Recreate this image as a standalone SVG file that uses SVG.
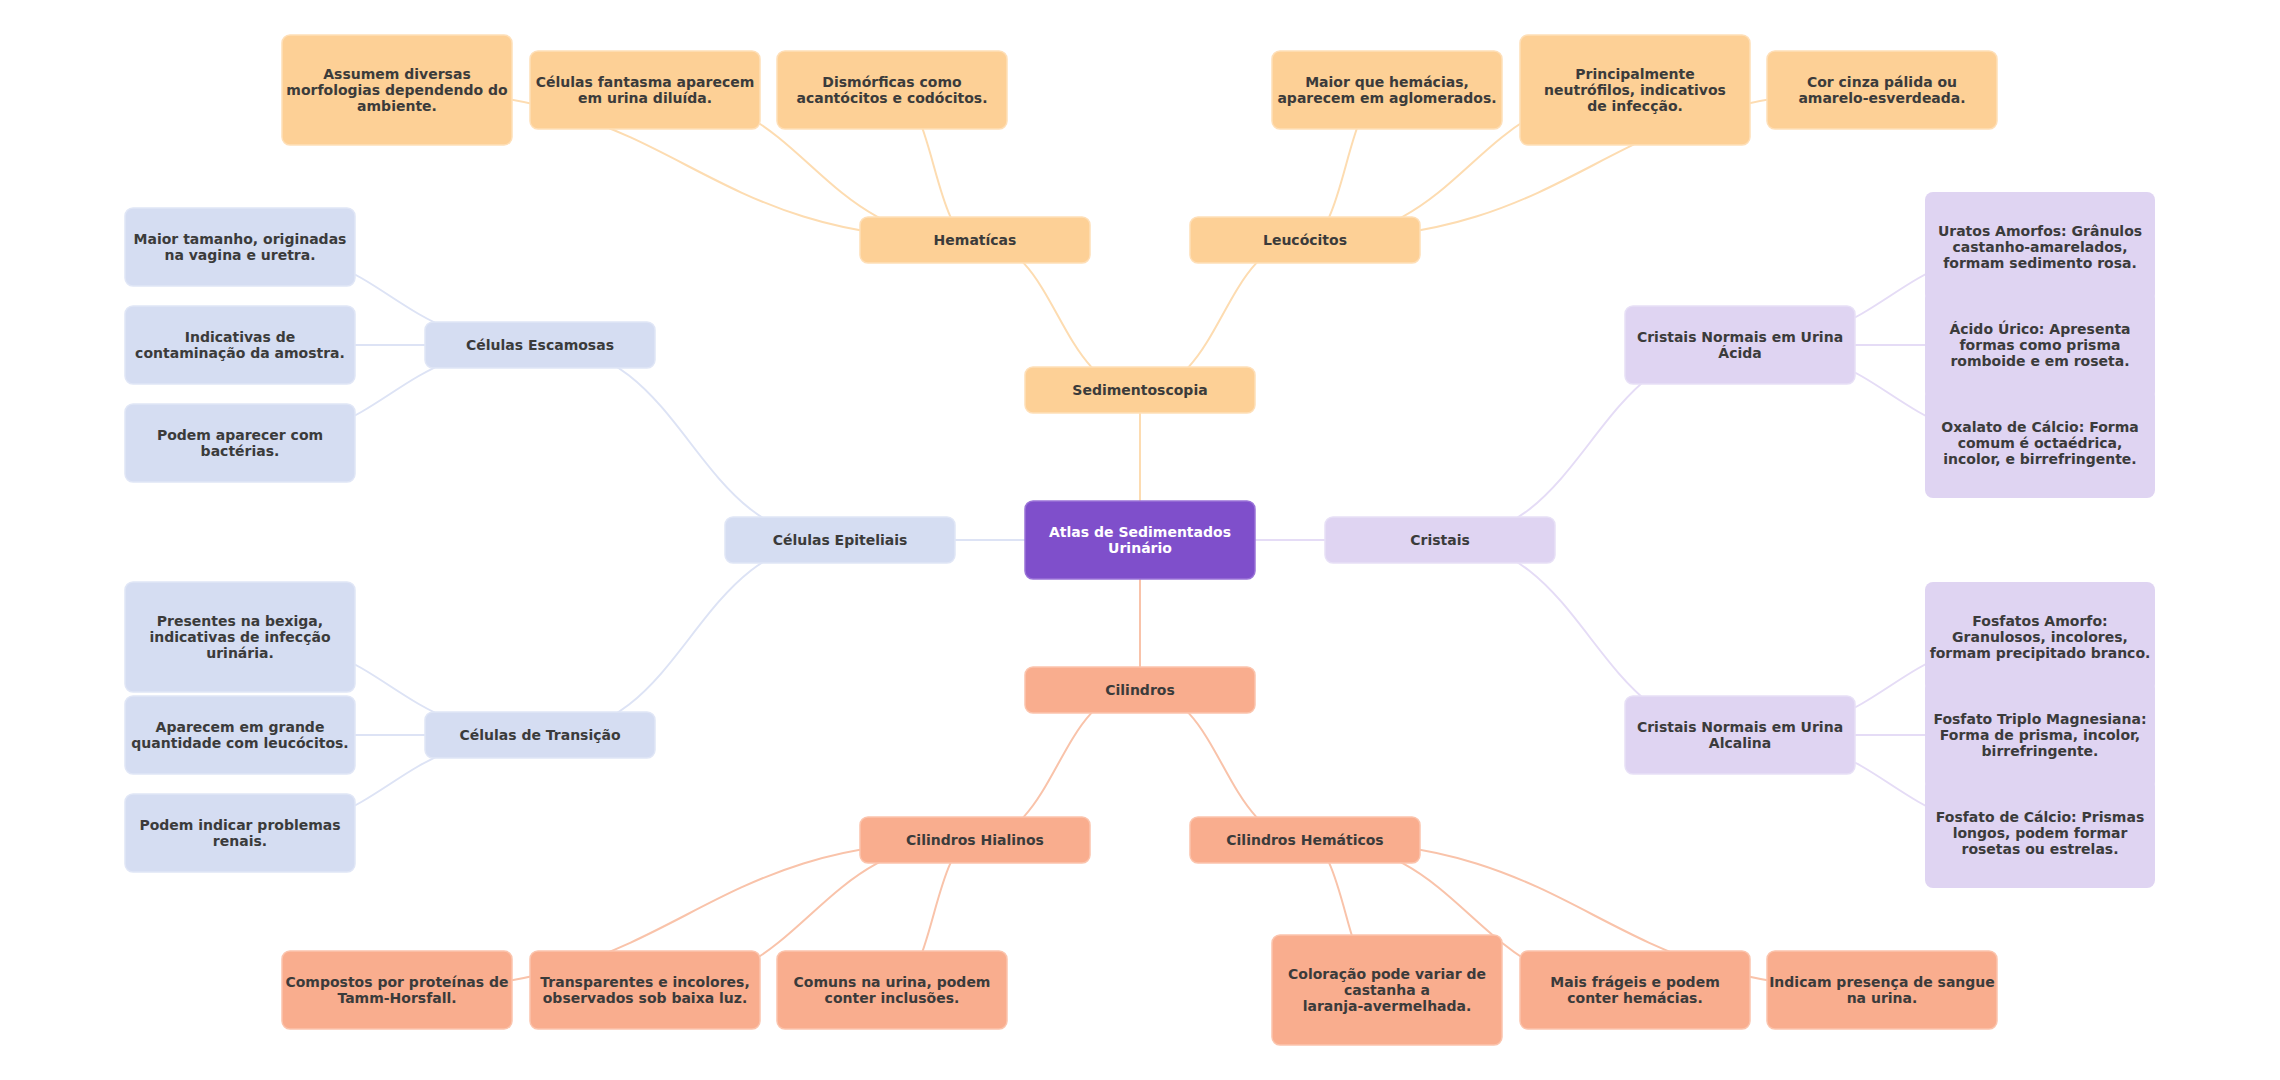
<svg xmlns="http://www.w3.org/2000/svg" width="2280" height="1080" viewBox="0 0 2280 1080">
<style>
text{font-family:"DejaVu Sans","Liberation Sans",sans-serif;font-weight:bold;font-size:14px;fill:#3b3b3b;text-anchor:middle}
.c text{fill:#ffffff}
.e{fill:none;stroke-width:2}
.eo{stroke:#fddcb1}
.eb{stroke:#dde3f5}
.el{stroke:#e5dcf6}
.es{stroke:#f9c3aa}
.o rect{fill:#fdd096;stroke:#fedfb8;stroke-width:1.5}
.b rect{fill:#d5ddf2;stroke:#e0e6f6;stroke-width:1.5}
.l rect{fill:#dfd4f2;stroke:#e7e0f6;stroke-width:1.5}
.ll rect{fill:#dfd4f2;stroke:none}
.s rect{fill:#f9ad8e;stroke:#fbc4ad;stroke-width:1.5}
.c rect{fill:#7f4fcb;stroke:#9a73d8;stroke-width:1.5}
</style>
<rect x="0" y="0" width="2280" height="1080" fill="#ffffff"/>
<g id="connectors">
<path class="e eo" d="M1140 540 L1140 390"/>
<path class="e es" d="M1140 540 L1140 690"/>
<path class="e eb" d="M1140 540 L840 540"/>
<path class="e el" d="M1140 540 L1440 540"/>
<path class="e eo" d="M1140 390 C1057.5 390 1057.5 240 975 240"/>
<path class="e eo" d="M1140 390 C1222.5 390 1222.5 240 1305 240"/>
<path class="e eo" d="M975 240 C686 240 686 90 397 90"/>
<path class="e eo" d="M975 240 C810 240 810 90 645 90"/>
<path class="e eo" d="M975 240 C933.5 240 933.5 90 892 90"/>
<path class="e eo" d="M1305 240 C1346 240 1346 90 1387 90"/>
<path class="e eo" d="M1305 240 C1470 240 1470 90 1635 90"/>
<path class="e eo" d="M1305 240 C1593.5 240 1593.5 90 1882 90"/>
<path class="e eb" d="M840 540 C690 540 690 345 540 345"/>
<path class="e eb" d="M840 540 C690 540 690 735 540 735"/>
<path class="e eb" d="M540 345 C390 345 390 247 240 247"/>
<path class="e eb" d="M540 345 L240 345"/>
<path class="e eb" d="M540 345 C390 345 390 443 240 443"/>
<path class="e eb" d="M540 735 C390 735 390 637 240 637"/>
<path class="e eb" d="M540 735 L240 735"/>
<path class="e eb" d="M540 735 C390 735 390 833 240 833"/>
<path class="e el" d="M1440 540 C1590 540 1590 345 1740 345"/>
<path class="e el" d="M1440 540 C1590 540 1590 735 1740 735"/>
<path class="e el" d="M1740 345 C1890 345 1890 247 2040 247"/>
<path class="e el" d="M1740 345 L2040 345"/>
<path class="e el" d="M1740 345 C1890 345 1890 443 2040 443"/>
<path class="e el" d="M1740 735 C1890 735 1890 637 2040 637"/>
<path class="e el" d="M1740 735 L2040 735"/>
<path class="e el" d="M1740 735 C1890 735 1890 833 2040 833"/>
<path class="e es" d="M1140 690 C1057.5 690 1057.5 840 975 840"/>
<path class="e es" d="M1140 690 C1222.5 690 1222.5 840 1305 840"/>
<path class="e es" d="M975 840 C686 840 686 990 397 990"/>
<path class="e es" d="M975 840 C810 840 810 990 645 990"/>
<path class="e es" d="M975 840 C933.5 840 933.5 990 892 990"/>
<path class="e es" d="M1305 840 C1346 840 1346 990 1387 990"/>
<path class="e es" d="M1305 840 C1470 840 1470 990 1635 990"/>
<path class="e es" d="M1305 840 C1593.5 840 1593.5 990 1882 990"/>
</g>

<g id="n-center" class="c"><rect x="1025" y="501" width="230" height="78" rx="8"/><text><tspan x="1140" y="537">Atlas de Sedimentados</tspan><tspan x="1140" y="553">Urinário</tspan></text></g>
<g id="n-sedimentoscopia" class="o"><rect x="1025" y="367" width="230" height="46" rx="8"/><text x="1140" y="395">Sedimentoscopia</text></g>
<g id="n-cilindros" class="s"><rect x="1025" y="667" width="230" height="46" rx="8"/><text x="1140" y="695">Cilindros</text></g>
<g id="n-epiteliais" class="b"><rect x="725" y="517" width="230" height="46" rx="8"/><text x="840" y="545">Células Epiteliais</text></g>
<g id="n-cristais" class="l"><rect x="1325" y="517" width="230" height="46" rx="8"/><text x="1440" y="545">Cristais</text></g>
<g id="n-hematicas" class="o"><rect x="860" y="217" width="230" height="46" rx="8"/><text x="975" y="245">Hematícas</text></g>
<g id="n-leucocitos" class="o"><rect x="1190" y="217" width="230" height="46" rx="8"/><text x="1305" y="245">Leucócitos</text></g>
<g id="n-escamosas" class="b"><rect x="425" y="322" width="230" height="46" rx="8"/><text x="540" y="350">Células Escamosas</text></g>
<g id="n-transicao" class="b"><rect x="425" y="712" width="230" height="46" rx="8"/><text x="540" y="740">Células de Transição</text></g>
<g id="n-acida" class="l"><rect x="1625" y="306" width="230" height="78" rx="8"/><text><tspan x="1740" y="342">Cristais Normais em Urina</tspan><tspan x="1740" y="358">Ácida</tspan></text></g>
<g id="n-alcalina" class="l"><rect x="1625" y="696" width="230" height="78" rx="8"/><text><tspan x="1740" y="732">Cristais Normais em Urina</tspan><tspan x="1740" y="748">Alcalina</tspan></text></g>
<g id="n-hialinos" class="s"><rect x="860" y="817" width="230" height="46" rx="8"/><text x="975" y="845">Cilindros Hialinos</text></g>
<g id="n-hematicos" class="s"><rect x="1190" y="817" width="230" height="46" rx="8"/><text x="1305" y="845">Cilindros Hemáticos</text></g>

<g id="n-assumem" class="o"><rect x="282" y="35" width="230" height="110" rx="8"/><text><tspan x="397" y="79">Assumem diversas</tspan><tspan x="397" y="95">morfologias dependendo do</tspan><tspan x="397" y="111">ambiente.</tspan></text></g>
<g id="n-fantasma" class="o"><rect x="530" y="51" width="230" height="78" rx="8"/><text><tspan x="645" y="87">Células fantasma aparecem</tspan><tspan x="645" y="103">em urina diluída.</tspan></text></g>
<g id="n-dismorficas" class="o"><rect x="777" y="51" width="230" height="78" rx="8"/><text><tspan x="892" y="87">Dismórficas como</tspan><tspan x="892" y="103">acantócitos e codócitos.</tspan></text></g>
<g id="n-maiorque" class="o"><rect x="1272" y="51" width="230" height="78" rx="8"/><text><tspan x="1387" y="87">Maior que hemácias,</tspan><tspan x="1387" y="103">aparecem em aglomerados.</tspan></text></g>
<g id="n-principalmente" class="o"><rect x="1520" y="35" width="230" height="110" rx="8"/><text><tspan x="1635" y="79">Principalmente</tspan><tspan x="1635" y="95">neutrófilos, indicativos</tspan><tspan x="1635" y="111">de infecção.</tspan></text></g>
<g id="n-corcinza" class="o"><rect x="1767" y="51" width="230" height="78" rx="8"/><text><tspan x="1882" y="87">Cor cinza pálida ou</tspan><tspan x="1882" y="103">amarelo-esverdeada.</tspan></text></g>

<g id="n-maiortamanho" class="b"><rect x="125" y="208" width="230" height="78" rx="8"/><text><tspan x="240" y="244">Maior tamanho, originadas</tspan><tspan x="240" y="260">na vagina e uretra.</tspan></text></g>
<g id="n-indicativas" class="b"><rect x="125" y="306" width="230" height="78" rx="8"/><text><tspan x="240" y="342">Indicativas de</tspan><tspan x="240" y="358">contaminação da amostra.</tspan></text></g>
<g id="n-podemaparecer" class="b"><rect x="125" y="404" width="230" height="78" rx="8"/><text><tspan x="240" y="440">Podem aparecer com</tspan><tspan x="240" y="456">bactérias.</tspan></text></g>
<g id="n-presentes" class="b"><rect x="125" y="582" width="230" height="110" rx="8"/><text><tspan x="240" y="626">Presentes na bexiga,</tspan><tspan x="240" y="642">indicativas de infecção</tspan><tspan x="240" y="658">urinária.</tspan></text></g>
<g id="n-aparecem" class="b"><rect x="125" y="696" width="230" height="78" rx="8"/><text><tspan x="240" y="732">Aparecem em grande</tspan><tspan x="240" y="748">quantidade com leucócitos.</tspan></text></g>
<g id="n-podemindicar" class="b"><rect x="125" y="794" width="230" height="78" rx="8"/><text><tspan x="240" y="830">Podem indicar problemas</tspan><tspan x="240" y="846">renais.</tspan></text></g>

<g id="n-uratos" class="ll"><rect x="1925" y="192" width="230" height="110" rx="8"/><text><tspan x="2040" y="236">Uratos Amorfos: Grânulos</tspan><tspan x="2040" y="252">castanho-amarelados,</tspan><tspan x="2040" y="268">formam sedimento rosa.</tspan></text></g>
<g id="n-acidourico" class="ll"><rect x="1925" y="290" width="230" height="110" rx="8"/><text><tspan x="2040" y="334">Ácido Úrico: Apresenta</tspan><tspan x="2040" y="350">formas como prisma</tspan><tspan x="2040" y="366">romboide e em roseta.</tspan></text></g>
<g id="n-oxalato" class="ll"><rect x="1925" y="388" width="230" height="110" rx="8"/><text><tspan x="2040" y="432">Oxalato de Cálcio: Forma</tspan><tspan x="2040" y="448">comum é octaédrica,</tspan><tspan x="2040" y="464">incolor, e birrefringente.</tspan></text></g>
<g id="n-fosfatos" class="ll"><rect x="1925" y="582" width="230" height="110" rx="8"/><text><tspan x="2040" y="626">Fosfatos Amorfo:</tspan><tspan x="2040" y="642">Granulosos, incolores,</tspan><tspan x="2040" y="658">formam precipitado branco.</tspan></text></g>
<g id="n-triplo" class="ll"><rect x="1925" y="680" width="230" height="110" rx="8"/><text><tspan x="2040" y="724">Fosfato Triplo Magnesiana:</tspan><tspan x="2040" y="740">Forma de prisma, incolor,</tspan><tspan x="2040" y="756">birrefringente.</tspan></text></g>
<g id="n-fosfatocalcio" class="ll"><rect x="1925" y="778" width="230" height="110" rx="8"/><text><tspan x="2040" y="822">Fosfato de Cálcio: Prismas</tspan><tspan x="2040" y="838">longos, podem formar</tspan><tspan x="2040" y="854">rosetas ou estrelas.</tspan></text></g>

<g id="n-compostos" class="s"><rect x="282" y="951" width="230" height="78" rx="8"/><text><tspan x="397" y="987">Compostos por proteínas de</tspan><tspan x="397" y="1003">Tamm-Horsfall.</tspan></text></g>
<g id="n-transparentes" class="s"><rect x="530" y="951" width="230" height="78" rx="8"/><text><tspan x="645" y="987">Transparentes e incolores,</tspan><tspan x="645" y="1003">observados sob baixa luz.</tspan></text></g>
<g id="n-comuns" class="s"><rect x="777" y="951" width="230" height="78" rx="8"/><text><tspan x="892" y="987">Comuns na urina, podem</tspan><tspan x="892" y="1003">conter inclusões.</tspan></text></g>
<g id="n-coloracao" class="s"><rect x="1272" y="935" width="230" height="110" rx="8"/><text><tspan x="1387" y="979">Coloração pode variar de</tspan><tspan x="1387" y="995">castanha a</tspan><tspan x="1387" y="1011">laranja-avermelhada.</tspan></text></g>
<g id="n-maisfrageis" class="s"><rect x="1520" y="951" width="230" height="78" rx="8"/><text><tspan x="1635" y="987">Mais frágeis e podem</tspan><tspan x="1635" y="1003">conter hemácias.</tspan></text></g>
<g id="n-indicam" class="s"><rect x="1767" y="951" width="230" height="78" rx="8"/><text><tspan x="1882" y="987">Indicam presença de sangue</tspan><tspan x="1882" y="1003">na urina.</tspan></text></g>
</svg>
